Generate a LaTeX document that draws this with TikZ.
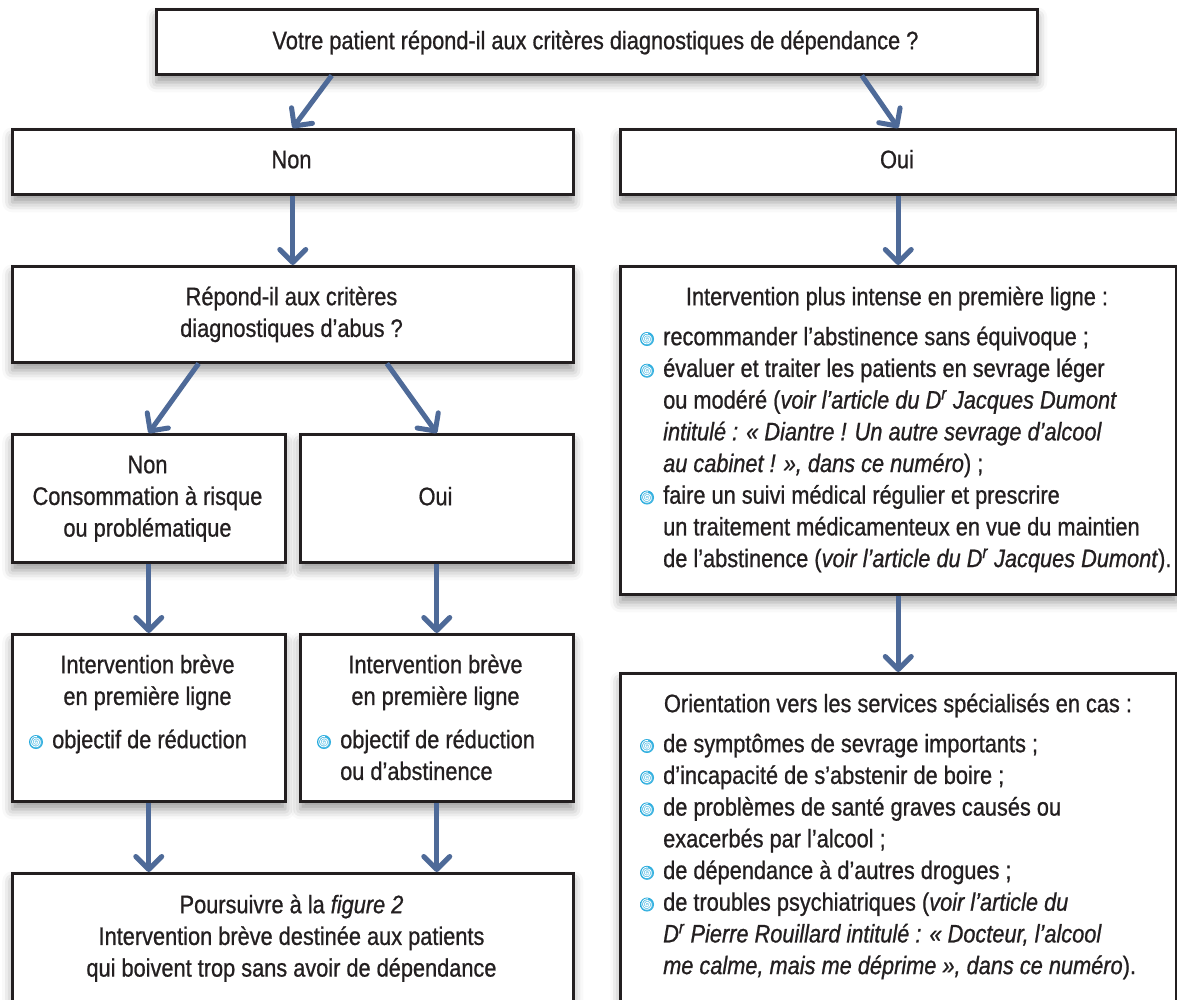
\documentclass[tikz,border=0pt]{standalone}
\usepackage{fontspec}
\setmainfont{Liberation Sans}[FakeStretch=0.86,FakeBold=0.8]
\usepackage{xcolor}
\usetikzlibrary{arrows.meta,calc,shadows.blur}
\definecolor{encre}{HTML}{231F20}
\definecolor{acier}{HTML}{4E6A98}
\definecolor{turquoise}{HTML}{1FA8DC}
\newcommand\haut{\rule{0pt}{20pt}}
\newcommand\interligne{31.7}
\tikzset{
  boite/.style={
    shape = rectangle,
    anchor = north west,
    draw = encre,
    fill = white,
    line width = 2.5pt,
    inner sep = 0pt,
    blur shadow={shadow xshift=0pt, shadow yshift=-8pt, shadow blur radius=10pt, shadow opacity=40}
  },
  fleche/.style={
    draw = acier,
    line width = 5pt,
    -{Straight Barb[length=13pt,width=26pt,round]}
  },
  texte/.style={
    anchor = north,
    inner sep = 0pt,
    text = encre,
    align = center,
    font = \fontsize{25.3}{\interligne}\selectfont
  },
  liste/.style={
    texte,
    anchor = north west,
    align = left
  },
  puce/.pic={
    \shade[inner color=turquoise!35, outer color=turquoise] (0,0) circle (7pt);
    \draw[white, line width=0.8pt, domain=0:1000, samples=90, smooth] plot ({\x}:{0.8+\x/1000*4.9});
  }
}
\begin{document}
\begin{tikzpicture}[x=1pt,y=-1pt]
    \useasboundingbox (0,0) rectangle (1177,999);
    \clip (0,0) rectangle (1177,999);

    % cases
    \node[boite, minimum width=881pt, minimum height=65pt] (dep) at (155,8) {};
    \node[boite, minimum width=561pt, minimum height=65pt] (non) at (11,128) {};
    \node[boite, minimum width=556pt, minimum height=65pt] (oui) at (619,128) {};
    \node[boite, minimum width=561pt, minimum height=96pt] (abus) at (11,265) {};
    \node[boite, minimum width=556pt, minimum height=328pt] (intense) at (619,265) {};
    \node[boite, minimum width=273pt, minimum height=128pt] (nonc) at (11,433) {};
    \node[boite, minimum width=273pt, minimum height=128pt] (ouic) at (299,433) {};
    \node[boite, minimum width=273pt, minimum height=167pt] (ibg) at (11,633) {};
    \node[boite, minimum width=273pt, minimum height=167pt] (ibd) at (299,633) {};
    \node[boite, minimum width=556pt, minimum height=345pt] (orient) at (619,672) {};
    \node[boite, minimum width=561pt, minimum height=140pt] (suite) at (11,872) {};

    % textes
    \node[texte] (tdep) at (595.5,29) {\haut Votre patient répond-il aux critères diagnostiques de dépendance ?};
    \node[texte] (tnon) at (291.5,148) {\haut Non};
    \node[texte] (toui) at (897,148) {\haut Oui};
    \node[texte] (tabus) at (291.5,285) {\haut Répond-il aux critères\\diagnostiques d’abus ?};
    \node[texte] (tnonc) at (147.5,453) {\haut Non\\Consommation à risque\\ou problématique};
    \node[texte] (touic) at (435.5,485) {\haut Oui};
    \node[texte] (tibg) at (147.5,653) {\haut Intervention brève\\en première ligne};
    \node[liste] (libg) at (52,728) {\haut objectif de réduction};
    \node[texte] (tibd) at (435.5,653) {\haut Intervention brève\\en première ligne};
    \node[liste] (libd) at (340,728) {\haut objectif de réduction\\ou d’abstinence};
    \node[texte] (tsuite) at (291.5,893) {\haut Poursuivre à la \textit{figure 2}\\Intervention brève destinée aux patients\\qui boivent trop sans avoir de dépendance};
    \node[texte] (tintense) at (897,285) {\haut Intervention plus intense en première ligne :};
    \node[liste] (lintense) at (663,325) {\haut recommander l’abstinence sans équivoque ;\\
      évaluer et traiter les patients en sevrage léger\\
      ou modéré (\textit{voir l’article du D\textsuperscript{r} Jacques Dumont}\\
      \textit{intitulé : « Diantre ! Un autre sevrage d’alcool}\\
      \textit{au cabinet ! », dans ce numéro}) ;\\
      faire un suivi médical régulier et prescrire\\
      un traitement médicamenteux en vue du maintien\\
      de l’abstinence (\textit{voir l’article du D\textsuperscript{r} Jacques Dumont}).};
    \node[texte] (torient) at (898,692) {\haut Orientation vers les services spécialisés en cas :};
    \node[liste] (lorient) at (663,732) {\haut de symptômes de sevrage importants ;\\
      d’incapacité de s’abstenir de boire ;\\
      de problèmes de santé graves causés ou\\
      exacerbés par l’alcool ;\\
      de dépendance à d’autres drogues ;\\
      de troubles psychiatriques (\textit{voir l’article du}\\
      \textit{D\textsuperscript{r} Pierre Rouillard intitulé : « Docteur, l’alcool}\\
      \textit{me calme, mais me déprime », dans ce numéro}).};

    % puces
    \pic at ($(libg.north west)+(-16,14)$) {puce};
    \pic at ($(libd.north west)+(-16,14)$) {puce};
    \foreach \k in {0,1,5}
      \pic at ($(lintense.north west)+(-16,14+\interligne*\k)$) {puce};
    \foreach \k in {0,1,2,4,5}
      \pic at ($(lorient.north west)+(-16,14+\interligne*\k)$) {puce};

    % fleches
    \draw[fleche] ($(dep.south west)!0.2!(dep.south east)$) -- (non.north);
    \draw[fleche] ($(dep.south west)!0.8!(dep.south east)$) -- (oui.north);
    \draw[fleche] (non.south) -- (abus.north);
    \draw[fleche] (oui.south) -- (intense.north);
    \draw[fleche] ($(abus.south west)!0.333!(abus.south east)$) -- (nonc.north);
    \draw[fleche] ($(abus.south west)!0.667!(abus.south east)$) -- (ouic.north);
    \draw[fleche] (nonc.south) -- (ibg.north);
    \draw[fleche] (ouic.south) -- (ibd.north);
    \draw[fleche] (ibg.south) -- (ibg.south |- suite.north);
    \draw[fleche] (ibd.south) -- (ibd.south |- suite.north);
    \draw[fleche] (intense.south) -- (orient.north);
\end{tikzpicture}
\end{document}
